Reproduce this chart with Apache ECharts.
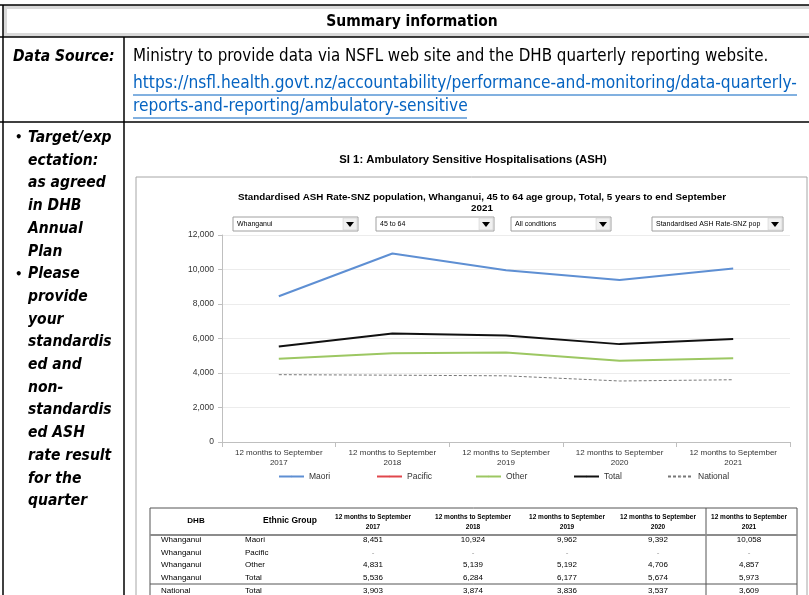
<!DOCTYPE html>
<html>
<head>
<meta charset="utf-8">
<script src="https://cdn.jsdelivr.net/npm/echarts@6/dist/echarts.min.js"></script>
<style>
  html, body { margin: 0; padding: 0; background: #fff; }
  #main { width: 809px; height: 595px; }
</style>
</head>
<body>
<div id="main"></div>
<script>
'use strict';

// chart data
var periods = ['12 months to September\n2017', '12 months to September\n2018', '12 months to September\n2019',
  '12 months to September\n2020', '12 months to September\n2021'];
var maori = [8451, 10924, 9962, 9392, 10058];
var pacific = [null, null, null, null, null];
var other = [4831, 5139, 5192, 4706, 4857];
var total = [5536, 6284, 6177, 5674, 5973];
var national = [3903, 3874, 3836, 3537, 3609];
var groups = ['Maori', 'Pacific', 'Other', 'Total', 'National'];
var yTicks = [0, 2000, 4000, 6000, 8000, 10000, 12000];

var FONT = '"Liberation Sans Narrow", "DejaVu Sans Condensed", sans-serif';
var SMALL = '"Liberation Sans", "DejaVu Sans", sans-serif';

function txt(x, y, s, o) {
  o = o || {};
  return {
    type: 'text', x: x, y: y, silent: true,
    style: {
      text: s, fill: o.fill || '#000', font: (o.italic ? 'italic ' : '') + (o.bold ? 'bold ' : '') + (o.size || 17) + 'px ' + (o.family || FONT),
      textAlign: o.align || 'left', textVerticalAlign: 'middle'
    }
  };
}
function line(x1, y1, x2, y2, c, w) {
  return { type: 'line', silent: true, shape: { x1: x1, y1: y1, x2: x2, y2: y2 }, style: { stroke: c || '#000', lineWidth: w || 1 } };
}
function rect(x, y, w, h, o) {
  return { type: 'rect', silent: true, shape: { x: x, y: y, width: w, height: h }, style: o };
}

var g = [];
// document table
g.push(rect(5, 7, 810, 28, { fill: '#fff', stroke: '#d9d9d9', lineWidth: 4 }));
g.push(line(0, 5, 809, 5, '#000', 1.5));
g.push(line(3, 5, 3, 595, '#000', 1.5));
g.push(line(0, 37, 809, 37, '#000', 1.5));
g.push(line(0, 122, 809, 122, '#000', 1.5));
g.push(line(124, 37, 124, 595, '#000', 1.5));
g.push(txt(412, 22, 'Summary information', { bold: true, size: 15.5, align: 'center' }));
g.push(txt(13, 57, 'Data Source:', { bold: true, italic: true, size: 15.5 }));
g.push(txt(133, 57, 'Ministry to provide data via NSFL web site and the DHB quarterly reporting website.', { size: 16.8 }));
g.push(txt(133, 84, 'https://nsfl.health.govt.nz/accountability/performance-and-monitoring/data-quarterly-', { fill: '#0563c1', size: 17.2 }));
g.push(txt(133, 107, 'reports-and-reporting/ambulatory-sensitive', { fill: '#0563c1', size: 17.2 }));
g.push(line(133, 95, 797, 95, '#0563c1', 1));
g.push(line(133, 118, 467, 118, '#0563c1', 1));

var leftLines = [['\u2022', 'Target/exp'], ['', 'ectation:'], ['', 'as agreed'], ['', 'in DHB'], ['', 'Annual'], ['', 'Plan'],
  ['\u2022', 'Please'], ['', 'provide'], ['', 'your'], ['', 'standardis'], ['', 'ed and'], ['', 'non-'],
  ['', 'standardis'], ['', 'ed ASH'], ['', 'rate result'], ['', 'for the'], ['', 'quarter']];
leftLines.forEach(function (l, i) {
  var y = 138 + i * 22.7;
  if (l[0]) g.push(txt(15, y, l[0], { bold: true, size: 13 }));
  g.push(txt(28, y, l[1], { bold: true, italic: true, size: 15.5 }));
});

// chart frame and titles
g.push(txt(473, 160, 'SI 1: Ambulatory Sensitive Hospitalisations (ASH)', { bold: true, size: 11.3, family: SMALL, align: 'center' }));
g.push(rect(136, 177, 671, 430, { fill: 'none', stroke: '#a6a6a6', lineWidth: 1 }));
g.push(txt(482, 197, 'Standardised ASH Rate-SNZ population, Whanganui, 45 to 64 age group, Total, 5 years to end September', { bold: true, size: 9.8, family: SMALL, align: 'center' }));
g.push(txt(482, 208, '2021', { bold: true, size: 9.8, family: SMALL, align: 'center' }));

// drop-down boxes
var drops = [[233, 125, 'Whanganui'], [376, 118, '45 to 64'], [511, 100, 'All conditions'], [652, 131, 'Standardised ASH Rate-SNZ pop']];
drops.forEach(function (d) {
  var x = d[0], w = d[1];
  g.push(rect(x, 217, w, 14, { fill: '#fff', stroke: '#a0a0a0', lineWidth: 1 }));
  g.push(rect(x + w - 15, 218, 14, 12, { fill: '#f0f0f0', stroke: '#c8c8c8', lineWidth: 0.5 }));
  g.push({ type: 'polygon', silent: true, shape: { points: [[x + w - 12, 222], [x + w - 4, 222], [x + w - 8, 227]] }, style: { fill: '#000' } });
  g.push(txt(x + 4, 224.5, d[2], { size: 7, family: SMALL }));
});

// data table below the chart
var tx = [373, 473, 567, 658, 749];
g.push(rect(150, 508, 647, 100, { fill: 'none', stroke: '#555', lineWidth: 1 }));
g.push(line(706, 508, 706, 595, '#555', 1));
g.push(line(150, 535, 797, 535, '#8c8c8c', 2));
g.push(line(150, 584, 797, 584, '#555', 1));
g.push(txt(196, 521, 'DHB', { bold: true, size: 8, family: SMALL, align: 'center' }));
g.push(txt(290, 521, 'Ethnic Group', { bold: true, size: 8.5, family: SMALL, align: 'center' }));
periods.forEach(function (p, i) {
  var parts = p.split('\n');
  g.push(txt(tx[i], 517, parts[0], { bold: true, size: 6.5, family: SMALL, align: 'center' }));
  g.push(txt(tx[i], 527, parts[1], { bold: true, size: 6.5, family: SMALL, align: 'center' }));
});
var rows = [['Whanganui', 'Maori', maori], ['Whanganui', 'Pacific', pacific], ['Whanganui', 'Other', other],
  ['Whanganui', 'Total', total], ['National', 'Total', national]];
rows.forEach(function (r, j) {
  var y = 540 + j * 12.6;
  g.push(txt(161, y, r[0], { size: 8, family: SMALL }));
  g.push(txt(245, y, r[1], { size: 8, family: SMALL }));
  r[2].forEach(function (v, i) {
    g.push(txt(tx[i], y, v == null ? '-' : v.toLocaleString('en-US'), { size: 8, family: SMALL, align: 'center', fill: v == null ? '#999' : '#000' }));
  });
});

// one legend per series so each sits where it does in the picture
var legendLeft = [273, 371, 470, 568, 662];
var legends = groups.map(function (name, i) {
  return {
    top: 467, left: legendLeft[i], itemWidth: 25, itemHeight: 2, itemGap: 0,
    textStyle: { fontSize: 8.5, color: '#333' },
    data: [name]
  };
});

var myChart = echarts.init(document.getElementById('main'));
var option = {
  animation: false,
  textStyle: { fontFamily: SMALL },
  grid: { left: 222, right: 19, top: 235, bottom: 153 },
  legend: legends,
  xAxis: {
    type: 'category', data: periods, boundaryGap: true,
    axisLine: { lineStyle: { color: '#bfbfbf' } },
    axisTick: { show: true, alignWithLabel: false, lineStyle: { color: '#bfbfbf' } },
    axisLabel: { fontSize: 8, color: '#333', lineHeight: 10, margin: 6, interval: 0 }
  },
  yAxis: {
    type: 'value', min: 0, max: 12000, interval: 2000,
    axisLine: { show: true, lineStyle: { color: '#bfbfbf' } },
    axisTick: { show: true, length: 4, lineStyle: { color: '#bfbfbf' } },
    axisLabel: { fontSize: 8.5, color: '#333', margin: 8, formatter: function (v) { return yTicks.indexOf(v) >= 0 ? v.toLocaleString('en-US') : ''; } },
    splitLine: { lineStyle: { color: '#ececec' } }
  },
  series: [
    { name: 'Maori', type: 'line', data: maori, symbol: 'none', lineStyle: { color: '#5e8fd3', width: 2 }, itemStyle: { color: '#5e8fd3' } },
    { name: 'Pacific', type: 'line', data: pacific, symbol: 'none', lineStyle: { color: '#e0474c', width: 2 }, itemStyle: { color: '#e0474c' } },
    { name: 'Other', type: 'line', data: other, symbol: 'none', lineStyle: { color: '#9cc762', width: 2 }, itemStyle: { color: '#9cc762' } },
    { name: 'Total', type: 'line', data: total, symbol: 'none', lineStyle: { color: '#111', width: 2 }, itemStyle: { color: '#111' } },
    { name: 'National', type: 'line', data: national, symbol: 'none', lineStyle: { color: '#777', width: 1, type: [3, 2] }, itemStyle: { color: '#999' } }
  ],
  graphic: g
};
myChart.setOption(option);
</script>
</body>
</html>
